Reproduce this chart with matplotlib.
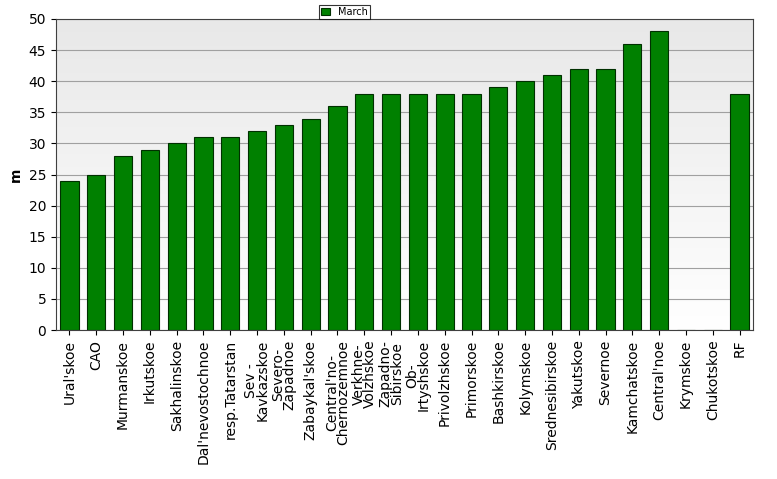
import numpy as np
import matplotlib
matplotlib.use("Agg")
import matplotlib.pyplot as plt

labels = ["Ural'skoe", "CAO", "Murmanskoe", "Irkutskoe", "Sakhalinskoe", "Dal'nevostochnoe",
          "resp.Tatarstan", "Sev -\nKavkazskoe", "Severo-\nZapadnoe", "Zabaykal'skoe",
          "Central'no-\nChernozemnoe", "Verkhne-\nVolzhskoe", "Zapadno-\nSibirskoe", "Ob-\nIrtyshskoe",
          "Privolzhskoe", "Primorskoe", "Bashkirskoe", "Kolymskoe", "Srednesibirskoe", "Yakutskoe",
          "Severnoe", "Kamchatskoe", "Central'noe", "Krymskoe", "Chukotskoe", "RF"]
march = [24, 25, 28, 29, 30, 31, 31, 32, 33, 34, 36, 38, 38, 38, 38, 38, 39, 40, 41, 42,
         42, 46, 48, 0, 0, 38]

fig = plt.figure(figsize=(7.77, 4.79), dpi=100)
ax = fig.add_axes([56 / 777, 1 - 330 / 479, (753 - 56) / 777, (330 - 19) / 479])

x = np.arange(len(labels))
ax.set_xlim(-0.5, len(labels) - 0.5)
ax.set_ylim(0, 50)
# gradient background
grad = np.linspace(1.0, 0.91, 256).reshape(-1, 1)
ax.imshow(np.dstack([grad] * 3), aspect="auto", extent=[-0.5, len(labels) - 0.5, 0, 50],
          origin="lower", zorder=0)
ax.set_yticks(range(0, 51, 5))
ax.yaxis.grid(True, color="#a0a0a0", linewidth=0.8, zorder=1)
ax.bar(x, march, width=0.68, color="#008000", edgecolor="#003000", linewidth=0.8,
       label="March", zorder=2)
ax.set_xticks(x)
ax.set_xticklabels(labels, rotation=90, fontsize=10, linespacing=0.75)
ax.tick_params(axis="y", labelsize=10)
ax.set_ylabel("m", fontsize=10, fontweight="bold")
for s in ax.spines.values():
    s.set_color("#404040")

leg = fig.legend(loc="upper center", bbox_to_anchor=(0.443, 1.0), fontsize=7,
                 frameon=True, fancybox=False, handlelength=1, handleheight=0.8,
                 borderpad=0.2, edgecolor="black")
leg.get_frame().set_linewidth(0.8)

fig.savefig("out.png", dpi=100)
